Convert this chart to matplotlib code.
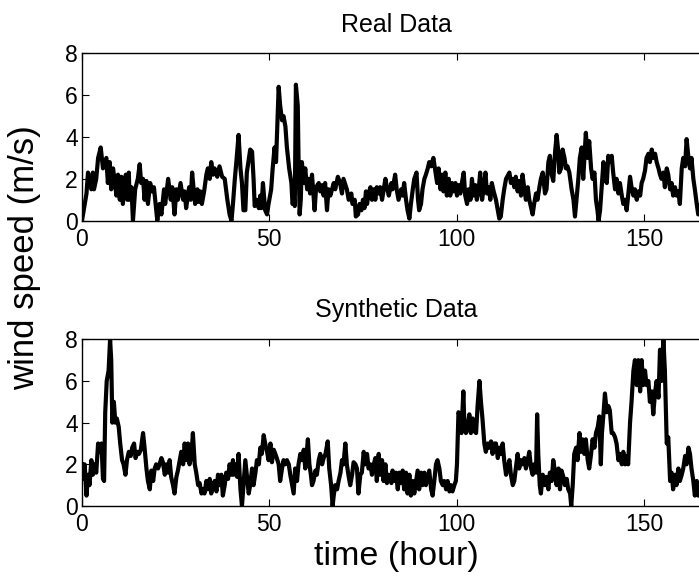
import matplotlib
matplotlib.use("Agg")
import matplotlib.pyplot as plt

plt.rcParams['font.family'] = ['Liberation Sans', 'DejaVu Sans']

# ---- Real data (hour, m/s) ----
real_t = [0.0, 1.2, 1.6, 2.5, 2.9, 3.2, 3.8, 4.3, 5.0, 5.6, 6.5, 6.9, 7.4, 7.8, 8.3, 9.2, 9.6, 10.1, 10.5, 10.9,
          11.7, 12.1, 12.5, 12.7, 13.2, 13.6, 14.2, 14.9, 15.4, 15.8, 16.3, 16.7, 17.2, 17.6, 18.2, 18.7, 19.2, 19.8, 20.1, 20.7,
          21.2, 21.9, 22.2, 23.0, 23.7, 24.1, 24.7, 25.2, 25.6, 26.3, 27.0, 27.4, 27.8, 28.6, 29.0, 29.4, 29.9, 30.2, 30.8, 31.1,
          31.6, 32.0, 32.6, 33.2, 33.6, 34.1, 34.5, 35.0, 35.4, 36.1, 36.7, 37.4, 38.1, 38.8, 39.4, 39.9, 40.3, 40.8, 41.2, 41.8,
          42.3, 42.7, 43.1, 43.6, 44.0, 44.9, 45.4, 45.8, 46.1, 46.7, 47.2, 47.6, 47.9, 48.3, 48.9, 49.4, 49.8, 50.5, 50.9, 51.4,
          51.8, 52.5, 52.9, 53.4, 53.8, 54.3, 54.7, 55.3, 55.9, 56.2, 56.6, 56.8, 57.1, 57.6, 57.8, 58.1, 58.4, 58.7, 59.2, 59.6,
          60.1, 60.5, 60.9, 61.4, 61.8, 62.1, 62.5, 63.2, 63.6, 64.1, 64.5, 64.9, 65.4, 65.8, 66.3, 67.2, 67.6, 68.3, 68.9, 69.4,
          69.8, 70.7, 71.2, 71.9, 72.2, 72.8, 73.1, 73.7, 74.1, 74.6, 75.0, 75.4, 75.8, 76.1, 76.5, 77.0, 77.4, 77.9, 78.3, 78.7,
          79.2, 79.6, 80.1, 81.0, 81.4, 81.9, 82.6, 82.9, 83.6, 84.0, 84.5, 85.2, 85.6, 86.0, 86.5, 86.9, 87.4, 87.8, 88.3, 88.7,
          89.3, 89.7, 90.0, 90.5, 90.9, 91.4, 91.8, 92.3, 92.7, 93.2, 93.8, 94.3, 94.8, 95.2, 95.7, 96.1, 96.5, 97.0, 97.4, 97.9,
          98.3, 98.8, 99.2, 99.7, 100.1, 100.5, 101.0, 101.4, 101.9, 102.3, 102.8, 103.2, 103.7, 104.1, 104.5, 105.0, 105.4, 105.9, 106.3, 106.8,
          107.2, 107.7, 108.1, 108.6, 109.0, 109.4, 109.9, 110.5, 111.0, 111.4, 111.8, 112.3, 112.7, 113.2, 114.1, 114.5, 115.0, 115.4, 115.8, 116.3,
          116.7, 117.2, 117.6, 118.1, 118.5, 119.0, 119.4, 119.9, 120.3, 120.7, 121.2, 121.6, 122.1, 122.5, 123.0, 123.6, 124.0, 124.5, 124.9, 125.4,
          125.8, 126.3, 126.7, 127.2, 127.4, 127.9, 128.3, 128.8, 129.2, 129.6, 130.1, 130.7, 131.2, 131.6, 132.0, 132.5, 132.9, 133.4, 133.8, 134.5,
          135.0, 135.4, 135.9, 136.3, 136.8, 137.2, 137.6, 137.9, 138.3, 138.7, 139.2, 139.6, 140.1, 140.5, 140.9, 141.4, 141.8, 142.3, 142.7, 143.2,
          143.6, 144.1, 144.5, 145.0, 145.4, 145.8, 146.3, 146.7, 147.2, 147.6, 148.1, 148.5, 149.0, 149.4, 149.8, 150.3, 150.7, 151.2, 151.6, 152.1,
          152.5, 153.0, 153.4, 153.9, 154.3, 154.7, 155.2, 155.6, 156.1, 156.5, 157.0, 157.4, 157.8, 158.3, 158.7, 159.2, 159.6, 160.1, 160.5, 161.0,
          161.4, 161.9, 162.3, 162.7, 163.2, 163.6, 164.1, 164.5, 165.3, 166.2, 167.5]
real_v = [0.0, 1.3, 2.3, 1.5, 2.3, 1.5, 2.0, 3.0, 3.5, 2.5, 3.0, 1.8, 2.8, 1.5, 2.5, 1.2, 2.2, 1.0, 2.1, 0.8,
          2.2, 1.0, 2.3, 1.0, 1.6, 0.0, 1.5, 2.0, 2.7, 1.8, 2.0, 1.0, 1.9, 0.8, 1.8, 1.4, 1.6, 0.5, 0.0, 0.8,
          0.3, 1.5, 0.8, 2.0, 1.0, 1.6, 0.3, 1.5, 1.0, 1.8, 1.0, 1.4, 0.6, 1.6, 1.0, 2.3, 1.3, 0.8, 1.5, 0.9,
          1.4, 0.8, 1.4, 2.2, 2.5, 2.0, 2.8, 2.2, 2.5, 2.1, 2.6, 2.1, 2.0, 1.0, 0.3, 0.0, 0.8, 2.0, 2.8, 4.1,
          2.5, 1.8, 0.5, 0.5, 2.3, 3.4, 3.3, 2.0, 0.7, 1.0, 0.6, 1.2, 0.6, 1.8, 0.5, 0.3, 0.8, 1.5, 2.5, 3.5,
          2.8, 6.4, 5.5, 4.8, 5.0, 4.5, 3.5, 2.5, 1.8, 0.8, 1.0, 0.7, 6.5, 5.5, 3.0, 0.3, 1.0, 2.8, 1.8, 2.5,
          1.5, 2.0, 1.3, 2.2, 1.2, 0.5, 1.6, 1.8, 1.4, 1.7, 1.2, 1.8, 0.5, 1.5, 1.2, 1.8, 1.5, 2.1, 1.8, 1.3,
          2.0, 1.5, 1.0, 1.3, 0.8, 1.0, 0.2, 0.3, 0.8, 0.5, 1.0, 0.6, 1.4, 0.8, 1.3, 1.6, 1.0, 1.5, 1.0, 1.6,
          1.3, 1.6, 1.0, 2.0, 1.6, 1.2, 1.8, 1.5, 2.2, 1.5, 1.0, 1.5, 1.2, 1.8, 1.0, 0.5, 0.1, 0.8, 1.5, 2.0,
          2.3, 1.0, 0.5, 0.8, 1.5, 2.0, 2.2, 2.5, 2.8, 2.6, 3.0, 2.4, 1.8, 2.5, 1.5, 2.2, 1.4, 2.3, 1.2, 2.0,
          1.2, 1.8, 1.4, 1.8, 1.2, 1.7, 1.3, 1.8, 2.3, 1.2, 0.8, 1.5, 1.0, 2.0, 1.2, 1.7, 1.0, 1.5, 2.3, 1.0,
          1.5, 2.3, 1.3, 1.6, 1.0, 1.8, 1.4, 1.0, 0.5, 0.1, 0.2, 1.0, 1.5, 2.0, 2.3, 1.8, 2.0, 1.6, 2.1, 1.4,
          1.9, 1.2, 2.2, 1.5, 1.0, 1.6, 1.0, 0.6, 0.3, 0.8, 1.3, 1.0, 1.6, 2.0, 2.3, 1.3, 1.5, 2.8, 3.1, 2.2,
          1.9, 3.3, 4.1, 3.2, 2.3, 2.5, 3.4, 3.0, 2.5, 2.6, 2.3, 1.5, 1.0, 0.2, 1.0, 2.0, 3.0, 3.5, 2.0, 4.2,
          3.0, 3.8, 2.5, 2.0, 2.3, 1.0, 0.5, 0.0, 0.5, 1.5, 2.8, 2.0, 1.8, 3.1, 2.8, 3.1, 2.3, 1.5, 2.0, 1.3,
          1.8, 1.2, 0.8, 1.0, 0.5, 1.2, 2.1, 1.6, 1.2, 1.5, 1.0, 1.4, 1.2, 1.8, 2.0, 2.4, 3.0, 3.2, 2.8, 3.4,
          3.0, 3.2, 2.8, 2.5, 2.2, 2.0, 2.3, 1.6, 2.5, 2.2, 1.5, 1.8, 1.2, 1.6, 1.2, 1.4, 0.8, 2.5, 3.0, 2.6,
          3.9, 3.0, 2.5, 3.0, 2.0, 1.5, 0.8, 0.3, 1.0, 0.6, 1.2]

# ---- Synthetic data (hour, m/s) ----
syn_t = [0.0, 0.3, 0.7, 1.2, 1.6, 2.0, 2.5, 2.9, 3.4, 3.8, 4.3, 4.7, 5.2, 5.6, 5.9, 6.2, 6.6, 7.1, 7.5, 7.8,
         8.1, 8.5, 8.9, 9.3, 9.8, 10.2, 10.7, 11.1, 11.6, 12.0, 12.5, 13.0, 13.4, 13.9, 14.3, 14.8, 15.2, 15.7, 16.3, 16.7,
         17.2, 17.6, 18.1, 18.5, 19.0, 19.4, 19.8, 20.3, 20.7, 21.2, 21.6, 22.1, 22.5, 23.0, 23.4, 23.8, 24.3, 24.7, 25.2, 25.6,
         26.1, 26.5, 27.0, 27.4, 27.8, 28.3, 28.7, 29.2, 29.6, 30.1, 30.5, 31.0, 31.4, 31.9, 32.3, 32.7, 33.2, 33.6, 34.1, 34.5,
         35.0, 35.4, 35.9, 36.3, 36.7, 37.2, 37.6, 38.1, 38.5, 39.0, 39.4, 39.9, 40.3, 40.5, 40.9, 41.4, 41.8, 42.3, 42.7, 43.1,
         43.6, 44.0, 44.5, 44.9, 45.4, 45.8, 46.3, 46.7, 47.2, 47.6, 48.0, 48.5, 48.9, 49.4, 49.8, 50.3, 50.7, 51.2, 51.6, 52.0,
         52.5, 52.9, 53.4, 53.8, 54.3, 54.7, 55.2, 55.6, 56.1, 56.5, 56.9, 57.4, 57.8, 58.3, 58.7, 59.2, 59.6, 60.3, 60.7, 61.1,
         61.4, 61.8, 62.3, 62.7, 63.2, 63.6, 64.1, 64.5, 65.0, 65.6, 66.0, 66.5, 66.9, 67.2, 67.6, 68.1, 68.5, 69.0, 69.4, 69.8,
         70.3, 70.7, 71.2, 71.6, 72.1, 72.5, 73.0, 73.4, 73.8, 74.3, 74.7, 75.2, 75.6, 76.1, 76.5, 77.0, 77.4, 77.9, 78.3, 78.7,
         79.2, 79.6, 80.1, 80.5, 81.0, 81.4, 81.9, 82.6, 82.9, 83.4, 83.8, 84.3, 84.7, 85.2, 85.6, 86.0, 86.5, 86.9, 87.4, 87.8,
         88.3, 88.7, 89.2, 89.6, 90.0, 90.5, 90.9, 91.4, 91.8, 92.3, 92.7, 93.2, 93.6, 94.1, 94.5, 94.9, 95.4, 95.8, 96.3, 96.7,
         97.2, 97.6, 98.1, 98.5, 98.9, 99.4, 99.8, 100.1, 100.5, 100.9, 101.3, 101.8, 102.1, 102.5, 102.9, 103.4, 103.8, 104.3, 104.7, 105.2,
         105.6, 106.1, 106.5, 106.9, 107.4, 107.8, 108.3, 108.7, 109.2, 109.6, 110.1, 110.5, 111.0, 111.4, 111.8, 112.3, 112.7, 113.2, 113.6, 114.1,
         114.5, 115.0, 115.4, 115.8, 116.3, 116.7, 117.2, 117.6, 118.1, 118.5, 119.0, 119.4, 119.9, 120.3, 120.7, 121.2, 121.5, 121.8, 122.2, 122.5,
         123.0, 123.6, 124.0, 124.5, 124.9, 125.4, 125.8, 126.3, 126.7, 127.2, 127.6, 128.0, 128.5, 128.9, 129.4, 129.8, 130.3, 130.6, 131.0, 131.4,
         131.9, 132.3, 132.8, 133.2, 133.6, 134.1, 134.5, 135.0, 135.4, 135.9, 136.3, 136.8, 137.2, 137.7, 138.1, 138.5, 138.8, 139.2, 139.6, 140.1,
         140.5, 140.9, 141.4, 141.8, 142.3, 142.7, 143.2, 143.6, 144.1, 144.5, 145.0, 145.4, 145.8, 146.3, 146.7, 147.2, 147.6, 148.1, 148.5, 149.0,
         149.4, 149.8, 150.3, 150.7, 151.2, 151.6, 152.1, 152.5, 153.0, 153.4, 153.9, 154.3, 154.7, 155.2, 155.6, 156.1, 156.5, 157.0, 157.4, 157.8,
         158.3, 158.7, 159.2, 159.6, 160.1, 160.5, 161.0, 161.4, 161.9, 162.3, 162.7, 163.2, 163.6, 164.1, 164.5, 165.3, 166.5, 167.5]
syn_v = [2.0, 1.3, 2.0, 0.5, 1.5, 1.0, 2.2, 1.5, 2.0, 1.6, 3.0, 2.6, 3.0, 1.3, 1.2, 4.5, 6.0, 6.5, 8.0, 7.0,
         4.0, 5.0, 4.0, 4.2, 3.8, 3.0, 2.2, 2.0, 1.5, 2.2, 2.6, 2.4, 2.8, 3.0, 2.3, 2.6, 2.5, 2.7, 3.5, 2.8,
         1.8, 1.2, 0.8, 1.7, 1.2, 1.8, 2.0, 1.8, 2.0, 2.3, 2.1, 1.5, 2.0, 1.6, 2.2, 1.4, 1.0, 0.6, 1.4, 1.7,
         2.2, 2.6, 2.0, 3.0, 2.2, 3.0, 2.0, 2.4, 3.5, 2.0, 1.6, 1.0, 1.1, 0.6, 0.8, 0.6, 1.2, 0.8, 1.3, 0.6,
         1.0, 1.2, 0.7, 1.5, 1.0, 1.5, 0.5, 1.0, 1.6, 1.3, 2.0, 1.5, 2.2, 1.5, 2.0, 1.4, 2.5, 0.8, 0.0, 1.0,
         2.2, 1.5, 0.6, 1.0, 1.8, 1.0, 1.6, 2.2, 2.0, 2.8, 2.5, 3.4, 3.0, 2.6, 2.2, 3.0, 2.1, 2.7, 2.5, 2.3,
         2.0, 1.2, 1.8, 2.2, 2.0, 2.2, 2.0, 1.5, 1.0, 0.6, 1.8, 1.2, 2.0, 2.5, 2.2, 2.7, 1.8, 3.2, 2.0, 1.5,
         1.0, 1.2, 1.7, 1.5, 2.2, 2.5, 2.0, 2.3, 2.5, 3.1, 1.8, 1.0, 0.0, 0.5, 1.0, 0.8, 1.2, 1.6, 2.2, 2.0,
         3.0, 2.0, 1.4, 1.0, 1.5, 2.1, 2.0, 1.8, 0.6, 1.5, 1.6, 2.6, 2.0, 2.5, 1.8, 2.0, 1.5, 2.0, 2.3, 1.2,
         2.5, 1.5, 2.2, 1.2, 2.0, 1.1, 1.5, 1.1, 1.7, 1.2, 1.6, 0.8, 1.6, 1.1, 1.7, 0.8, 1.6, 0.6, 1.5, 0.5,
         1.2, 0.6, 1.2, 1.7, 0.8, 1.6, 1.0, 1.6, 1.0, 1.4, 1.7, 0.8, 0.5, 1.3, 2.0, 2.2, 1.8, 1.2, 1.0, 1.2,
         0.8, 1.2, 0.7, 1.0, 0.7, 1.0, 1.2, 2.0, 4.5, 4.3, 3.5, 5.5, 3.8, 3.5, 3.8, 4.4, 3.5, 4.2, 3.6, 3.5,
         4.8, 6.0, 5.0, 4.2, 3.0, 2.6, 3.0, 2.8, 3.1, 2.5, 3.0, 3.0, 2.3, 2.8, 2.5, 3.0, 2.2, 1.5, 1.8, 2.2,
         1.5, 1.0, 1.2, 1.8, 2.5, 1.8, 2.2, 2.0, 2.3, 1.8, 2.2, 2.6, 1.8, 1.5, 2.0, 1.6, 4.4, 2.5, 1.0, 0.6,
         1.5, 1.0, 1.4, 0.8, 1.6, 1.2, 2.2, 1.6, 1.0, 1.8, 0.8, 1.7, 1.4, 1.0, 1.3, 0.8, 0.6, 0.0, 1.0, 2.5,
         2.8, 2.2, 3.5, 2.6, 3.2, 2.5, 3.2, 2.2, 1.8, 2.5, 3.2, 2.8, 3.5, 3.8, 4.3, 2.0, 3.5, 4.4, 5.4, 4.5,
         4.8, 4.6, 3.5, 3.5, 3.3, 3.0, 2.2, 2.5, 2.0, 2.6, 2.0, 2.4, 2.0, 4.0, 5.0, 6.5, 7.0, 5.8, 7.0, 5.5,
         7.0, 5.8, 6.5, 5.8, 6.0, 5.0, 5.5, 4.4, 5.5, 6.0, 5.2, 7.5, 6.0, 8.0, 6.5, 3.0, 3.3, 1.2, 1.6, 0.8,
         1.5, 1.0, 1.8, 1.2, 1.5, 1.8, 2.4, 2.0, 2.8, 2.5, 1.8, 1.2, 0.5, 1.2, 0.5, 1.0, 1.4, 0.9]

titles = ["Real Data", "Synthetic Data"]
x_ticks = [0, 50, 100, 150]
y_ticks = [0, 2, 4, 6, 8]

W, H = 699, 579
fig = plt.figure(figsize=(W / 100, H / 100), dpi=100)

left = 82 / W
width = 168 * 3.746 / W
ax_top = fig.add_axes([left, (H - 220.7) / H, width, 167.4 / H])
ax_bot = fig.add_axes([left, (H - 506) / H, width, 166.7 / H])

for ax, t, v, title, ty in [(ax_top, real_t, real_v, titles[0], 25),
                            (ax_bot, syn_t, syn_v, titles[1], 310)]:
    ax.plot(t, v, color='black', linewidth=3.0, solid_joinstyle='round')
    ax.set_xlim(0, 168)
    ax.set_ylim(0, 8)
    ax.set_xticks(x_ticks)
    ax.set_yticks(y_ticks)
    ax.tick_params(direction='in', length=5, width=0.8, top=True, right=True,
                   labelsize=16.5, colors='black')
    ax.tick_params(axis='x', pad=5)
    ax.tick_params(axis='y', pad=3)
    for s in ax.spines.values():
        s.set_linewidth(1.0)
    fig.text((82 + 84 * 3.746) / W, (H - ty) / H, title, ha='center', va='center', fontsize=18)

fig.text((82 + 84 * 3.746) / W, (H - 556) / H, "time (hour)", ha='center', va='center', fontsize=24.5)
fig.text(25 / W, (H - 258) / H, "wind speed (m/s)", ha='center', va='center', rotation=90, fontsize=25)

fig.savefig("out.png", dpi=100)
